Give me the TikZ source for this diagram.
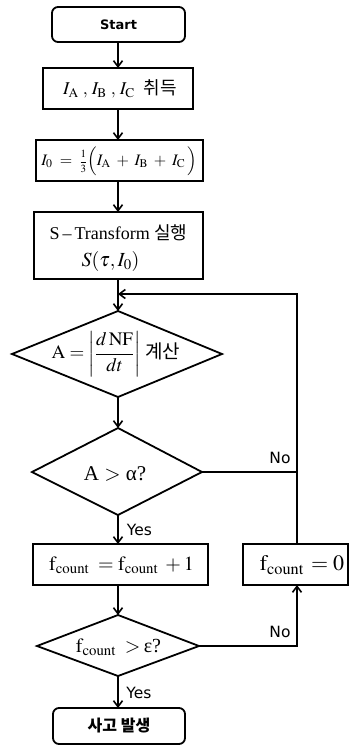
\documentclass[tikz,border=0pt]{standalone}
\usepackage{mathptmx}
\usepackage{fontspec}
\setmainfont{Liberation Serif}
\newfontfamily\krfont{Noto Sans CJK KR}
\newfontfamily\lsans{DejaVu Sans}
\usetikzlibrary{arrows.meta}
\begin{document}
\begin{tikzpicture}[x=1pt,y=-1pt,
  line width=1.8pt,
  arr/.style={-{Straight Barb[length=6pt,width=9pt,line width=1.6pt]}},
  lbl/.style={font=\lsans\fontsize{15.5}{15.5}\selectfont, inner sep=0pt},
  txt/.style={inner sep=0pt}]
\useasboundingbox (0,0) rectangle (350,747);
% shapes
\draw[rounded corners=6pt] (52,7) rectangle (185,42);
\node[txt,font=\lsans\bfseries\fontsize{13}{13}\selectfont] (start) at (118.5,24.5) {Start};
\draw (43,68) rectangle (193,109);
\node[txt] (acq) at (120,89) {\fontsize{18}{18}\selectfont $I_{\mathrm{A}}\;,\,I_{\mathrm{B}}\;,\,I_{\mathrm{C}}$\ \ {\krfont 취득}};
\draw (36,140) rectangle (203,181);
\node[txt] (avg) at (119,161) {\fontsize{16}{16}\selectfont $I_0\;=\;\mbox{\fontsize{11}{11}\selectfont$\displaystyle\frac{1}{3}$}\Bigl(I_{\mathrm{A}}\;+\;I_{\mathrm{B}}\;+\;I_{\mathrm{C}}\,\Bigr)$};
\draw (34,212) rectangle (203,279);
\node[txt] (st1) at (118.5,233) {\fontsize{18}{18}\selectfont S\,--\,Transform {\krfont 실행}};
\node[txt] (st2) at (110.5,261) {\fontsize{20}{20}\selectfont $S(\tau,I_0)$};
% diamond 1
\draw (118,311) -- (222,354) -- (118,397) -- (12,354) -- cycle;
\node[txt] (calc) at (116,354) {\fontsize{19}{19}\selectfont $\mathrm{A}=\left|\displaystyle\frac{d\,\mathrm{NF}}{dt}\right|$ {\krfont 계산}};
% diamond 2
\draw (118,428) -- (202,472) -- (118,515) -- (32,472) -- cycle;
\node[txt] (cmp) at (115,474) {\fontsize{21}{21}\selectfont A $>$ α?};
% boxes
\draw (33,544) rectangle (208,585);
\node[txt] (inc) at (121.5,565) {\fontsize{20}{20}\selectfont $\mathrm{f}_{\mathrm{count}}\;=\mathrm{f}_{\mathrm{count}}\;+1$};
\draw (243,544) rectangle (348,585);
\node[txt] (rst) at (302,565) {\fontsize{22}{22}\selectfont $\mathrm{f}_{\mathrm{count}}\,=0$};
% diamond 3
\draw (118,615) -- (199,646) -- (118,676) -- (37,646) -- cycle;
\node[txt] (cmp2) at (118.5,647) {\fontsize{20}{20}\selectfont $\mathrm{f}_{\mathrm{count}}\;>$\,ε?};
% end
\draw[rounded corners=6pt] (53,708) rectangle (185,744);
\node[txt,font=\krfont\bfseries\fontsize{16}{16}\selectfont] (end) at (119,726) {사고 발생};
% coordinates
\coordinate (a1) at (118,42);
\coordinate (b1) at (118,68);
\coordinate (b2) at (118,109);
\coordinate (c1) at (118,140);
\coordinate (c2) at (118,181);
\coordinate (d1) at (118,212);
\coordinate (d2) at (118,279);
\coordinate (e1) at (118,311);
\coordinate (e2) at (118,397);
\coordinate (f1) at (118,428);
\coordinate (f2) at (118,515);
\coordinate (fR) at (202,472);
\coordinate (g1) at (118,544);
\coordinate (g2) at (118,585);
\coordinate (h1) at (118,615);
\coordinate (h2) at (118,676);
\coordinate (hR) at (199,646);
\coordinate (hC) at (297,646);
\coordinate (i1) at (118,708);
\coordinate (r1) at (297,544);
\coordinate (r2) at (297,585);
\coordinate (loopTop) at (297,294);
\coordinate (loopIn) at (118,294);
\coordinate (join) at (297,472);
% connectors
\draw[arr] (a1) -- (b1);
\draw[arr] (b2) -- (c1);
\draw[arr] (c2) -- (d1);
\draw[arr] (d2) -- (e1);
\draw[arr] (e2) -- (f1);
\draw[arr] (f2) -- (g1);
\draw[arr] (g2) -- (h1);
\draw[arr] (h2) -- (i1);
\draw[arr] (r1) -- (loopTop) -- (loopIn);
\draw (fR) -- (join);
\draw[arr] (hR) -- (hC) -- (r2);
% labels
\node[lbl] (no1) at (280,458) {No};
\node[lbl] (yes1) at (139.5,530) {Yes};
\node[lbl] (no2) at (280,632) {No};
\node[lbl] (yes2) at (139,693) {Yes};
\end{tikzpicture}
\end{document}
